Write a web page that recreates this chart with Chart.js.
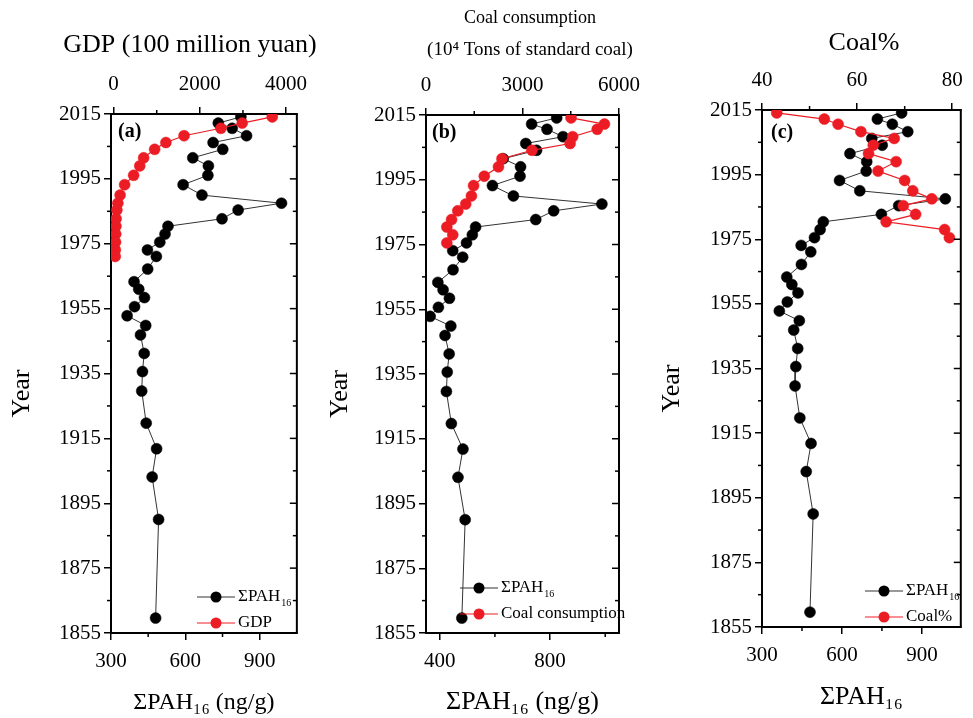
<!DOCTYPE html>
<html>
<head>
<meta charset="utf-8">
<script src="https://cdn.jsdelivr.net/npm/chart.js@4.4.1/dist/chart.umd.min.js"></script>
<style>
  html, body { margin: 0; padding: 0; background: #fff; }
  #wrap { position: relative; width: 973px; height: 718px; overflow: hidden; }
  .panel { position: absolute; top: 0; }
  canvas { display: block; }
</style>
</head>
<body>
<div id="wrap">
  <div class="panel" style="left:0"><canvas id="chartA" width="318" height="718"></canvas></div>
  <div class="panel" style="left:318px"><canvas id="chartB" width="332" height="718"></canvas></div>
  <div class="panel" style="left:650px"><canvas id="chartC" width="323" height="718"></canvas></div>
</div>
<script>
// dated sediment layers (year), top of core first
const years = [2014.1, 2012.2, 2010.6, 2008.3, 2006.2, 2004.1, 2001.5, 1999.0, 1996.1, 1993.2,
               1990.0, 1987.5, 1985.4, 1982.7, 1980.4, 1978.0, 1975.5, 1973.1, 1971.1, 1967.2,
               1963.3, 1961.0, 1958.4, 1955.6, 1952.8, 1949.8, 1946.9, 1941.2, 1935.6, 1929.6,
               1919.7, 1911.8, 1903.1, 1890.0, 1859.6];
// sum of 16 PAHs (ng/g)
const pah = [824, 733, 789, 847, 712, 751, 630, 693, 691, 591,
             667, 988, 813, 748, 530, 518, 497, 447, 483, 448,
             393, 412, 435, 395, 365, 440, 419, 434, 427, 424,
             442, 484, 466, 492, 480];
// GDP (100 million yuan), same layers 2014..1971
const gdp = [3679, 2982, 2488, 1634, 1213, 952, 697, 607, 465, 256,
             151, 99, 76, 58, 54, 50, 45, 40, 38];
// coal consumption (10^4 t standard coal), layers 2014..1975
const coal = [4509, 5547, 5323, 4559, 4479, 3294, 2362, 2253, 1812, 1479,
              1412, 1235, 988, 794, 647, 832, 647];
// coal share of energy (%), layers 2014..1975
const coalPct = [43.1, 53.1, 56.0, 60.8, 67.8, 63.4, 62.4, 68.2, 64.4, 70.0,
                 71.7, 75.7, 69.7, 72.3, 66.1, 78.4, 79.4];

const yearMajor = [1855, 1875, 1895, 1915, 1935, 1955, 1975, 1995, 2015];
const yearMinor = [1865, 1885, 1905, 1925, 1945, 1965, 1985, 2005];

const RED = '#ec1c24';
const serif = '"Liberation Serif", "Times New Roman", serif';

function profile(values) {
  return values.map((v, i) => ({x: v, y: years[i]}));
}

function setTicks(vals) {
  return s => { s.ticks = vals.map(v => ({value: v})); };
}

// draws the parts the library has no option for: right frame, minor ticks,
// panel letter, the top and Year titles and a line+marker legend
const panelDeco = {
  id: 'panelDeco',
  afterDraw(chart, args, o) {
    const ctx = chart.ctx, a = chart.chartArea;
    const sy = chart.scales.y, sx = chart.scales.x, sx2 = chart.scales.x2;
    const seg = (x1, y1, x2, y2) => { ctx.beginPath(); ctx.moveTo(x1, y1); ctx.lineTo(x2, y2); ctx.stroke(); };
    ctx.save();
    ctx.strokeStyle = '#000';
    ctx.lineWidth = 2;
    seg(a.right, a.top - 1, a.right, a.bottom + 1);
    ctx.lineWidth = 1.5;
    yearMinor.forEach(v => { const p = sy.getPixelForValue(v); seg(a.left - 4, p, a.left, p); seg(a.right - 4, p, a.right, p); });
    yearMajor.forEach(v => { const p = sy.getPixelForValue(v); seg(a.right - 7, p, a.right, p); });
    o.minorX.forEach(v => { const p = sx.getPixelForValue(v); seg(p, a.bottom, p, a.bottom + 4); });
    o.minorX2.forEach(v => { const p = sx2.getPixelForValue(v); seg(p, a.top - 4, p, a.top); });

    ctx.fillStyle = '#000';
    ctx.textBaseline = 'middle';
    ctx.font = 'bold 20px ' + serif;
    ctx.fillText(o.letter, a.left + o.letterDx, a.top + o.letterDy);

    const tt = o.topTitle;
    ctx.textAlign = 'center';
    ctx.font = tt.size + 'px ' + serif;
    tt.lines.forEach((t, i) => {
      if (tt.fit && tt.fit[i]) ctx.fillText(t, tt.x, tt.ys[i], tt.fit[i]);
      else ctx.fillText(t, tt.x, tt.ys[i]);
    });

    ctx.save();
    ctx.translate(22, (a.top + a.bottom) / 2 + 20);
    ctx.rotate(-Math.PI / 2);
    ctx.textAlign = 'center';
    ctx.font = '26px ' + serif;
    ctx.fillText('Year', 0, 0);
    ctx.restore();

    const lg = o.legend;
    chart.data.datasets.forEach((ds, i) => {
      const y = lg.y + i * lg.dy;
      ctx.strokeStyle = ds.borderColor;
      ctx.lineWidth = 1;
      seg(lg.x, y, lg.x + 38, y);
      ctx.fillStyle = ds.pointBackgroundColor;
      ctx.beginPath(); ctx.arc(lg.x + 19, y, 5.5, 0, Math.PI * 2); ctx.fill();
      ctx.fillStyle = '#000';
      ctx.font = '17px ' + serif;
      ctx.textAlign = 'left';
      ctx.fillText(ds.label, lg.x + 41, y);
      if (ds.sub) {
        const w = ctx.measureText(ds.label).width;
        ctx.font = '10px ' + serif;
        ctx.fillText(ds.sub, lg.x + 42 + w, y + 6);
      }
    });
    ctx.restore();
  }
};

function axisX(pos, min, max, major, title, tickPad, titlePad, height) {
  return {
    type: 'linear', position: pos, min: min, max: max,
    afterBuildTicks: setTicks(major),
    afterFit: s => { s.height = height; },
    ticks: {font: {family: serif, size: 21}, color: '#000', padding: tickPad, maxRotation: 0, autoSkip: false,
            callback: v => String(v)},
    grid: {display: true, drawOnChartArea: false, tickLength: 7, color: '#000', lineWidth: 1.5},
    border: {display: true, color: '#000', width: 2},
    title: title ? {display: true, text: title.text, color: '#000',
                    font: {family: serif, size: title.size, lineHeight: 1.2}, padding: titlePad}
                 : {display: false}
  };
}

function axisY(width) {
  return {
    type: 'linear', position: 'left', min: 1855, max: 2015,
    afterBuildTicks: setTicks(yearMajor),
    afterFit: s => { s.width = width; },
    ticks: {font: {family: serif, size: 21}, color: '#000', padding: 3, autoSkip: false, callback: v => String(v)},
    grid: {display: true, drawOnChartArea: false, tickLength: 7, color: '#000', lineWidth: 1.5},
    border: {display: true, color: '#000', width: 2},
    title: {display: false}
  };
}

function datasets(redLabel, redValues) {
  return [{
    label: 'ΣPAH', sub: '16', data: profile(pah), xAxisID: 'x', yAxisID: 'y', order: 1,
    showLine: true, borderColor: '#333', borderWidth: 1, tension: 0,
    pointRadius: 5.5, pointBackgroundColor: '#000', pointBorderColor: '#000', pointBorderWidth: 0.5
  }, {
    label: redLabel, data: profile(redValues), xAxisID: 'x2', yAxisID: 'y', order: 0,
    showLine: true, borderColor: RED, borderWidth: 1.2, tension: 0,
    pointRadius: 5.5, pointBackgroundColor: RED, pointBorderColor: RED, pointBorderWidth: 0.5
  }];
}

function panel(id, p) {
  new Chart(document.getElementById(id), {
    type: 'scatter',
    data: {datasets: datasets(p.redLabel, p.redValues)},
    options: {
      responsive: false, animation: false, events: [],
      layout: {padding: {left: 0, right: p.padRight, top: 0, bottom: 0}},
      scales: {
        x: axisX('bottom', p.x[0], p.x[1], p.xMajor, p.xTitle, 8.5, {top: 0, bottom: p.xTitlePad}, p.bottomH),
        x2: axisX('top', p.x2[0], p.x2[1], p.x2Major, null, 10, null, p.topH),
        y: axisY(p.yW)
      },
      plugins: {
        legend: {display: false}, tooltip: {enabled: false},
        panelDeco: {minorX: p.xMinor, minorX2: p.x2Minor, letter: p.letter, letterDx: p.letterDx,
                    letterDy: p.letterDy, legend: p.legend, topTitle: p.topTitle}
      }
    },
    plugins: [panelDeco]
  });
}

panel('chartA', {
  redLabel: 'GDP', redValues: gdp,
  x: [300, 1050], xMajor: [300, 600, 900], xMinor: [450, 750],
  xTitle: {text: 'ΣPAH₁₆ (ng/g)', size: 24}, xTitlePad: 1, bottomH: 85,
  x2: [-60, 4250], x2Major: [0, 2000, 4000], x2Minor: [1000, 3000], topH: 114,
  topTitle: {lines: ['GDP (100 million yuan)'], size: 26, x: 190, ys: [45]},
  yW: 111, padRight: 16, letter: '(a)', letterDx: 7, letterDy: 18,
  legend: {x: 197, y: 597, dy: 26}
});

panel('chartB', {
  redLabel: 'Coal consumption', redValues: coal,
  x: [350, 1050], xMajor: [400, 800], xMinor: [600, 1000],
  xTitle: {text: 'ΣPAH₁₆ (ng/g)', size: 26}, xTitlePad: 0, bottomH: 85,
  x2: [0, 6000], x2Major: [0, 3000, 6000], x2Minor: [1500, 4500], topH: 115,
  topTitle: {lines: ['Coal consumption', '(10⁴ Tons of standard coal)'], size: 19, x: 212, ys: [18, 50], fit: [132, 216]},
  yW: 108, padRight: 20, letter: '(b)', letterDx: 6, letterDy: 18,
  legend: {x: 142, y: 588, dy: 26}
});

panel('chartC', {
  redLabel: 'Coal%', redValues: coalPct,
  x: [300, 1046], xMajor: [300, 600, 900], xMinor: [450, 750],
  xTitle: {text: 'ΣPAH₁₆', size: 26}, xTitlePad: 5, bottomH: 91,
  x2: [40, 81.8], x2Major: [40, 60, 80], x2Minor: [50, 70], topH: 110,
  topTitle: {lines: ['Coal%'], size: 26, x: 214, ys: [43]},
  yW: 112, padRight: 4, letter: '(c)', letterDx: 9, letterDy: 23,
  legend: {x: 215, y: 591, dy: 26}
});
</script>
</body>
</html>
